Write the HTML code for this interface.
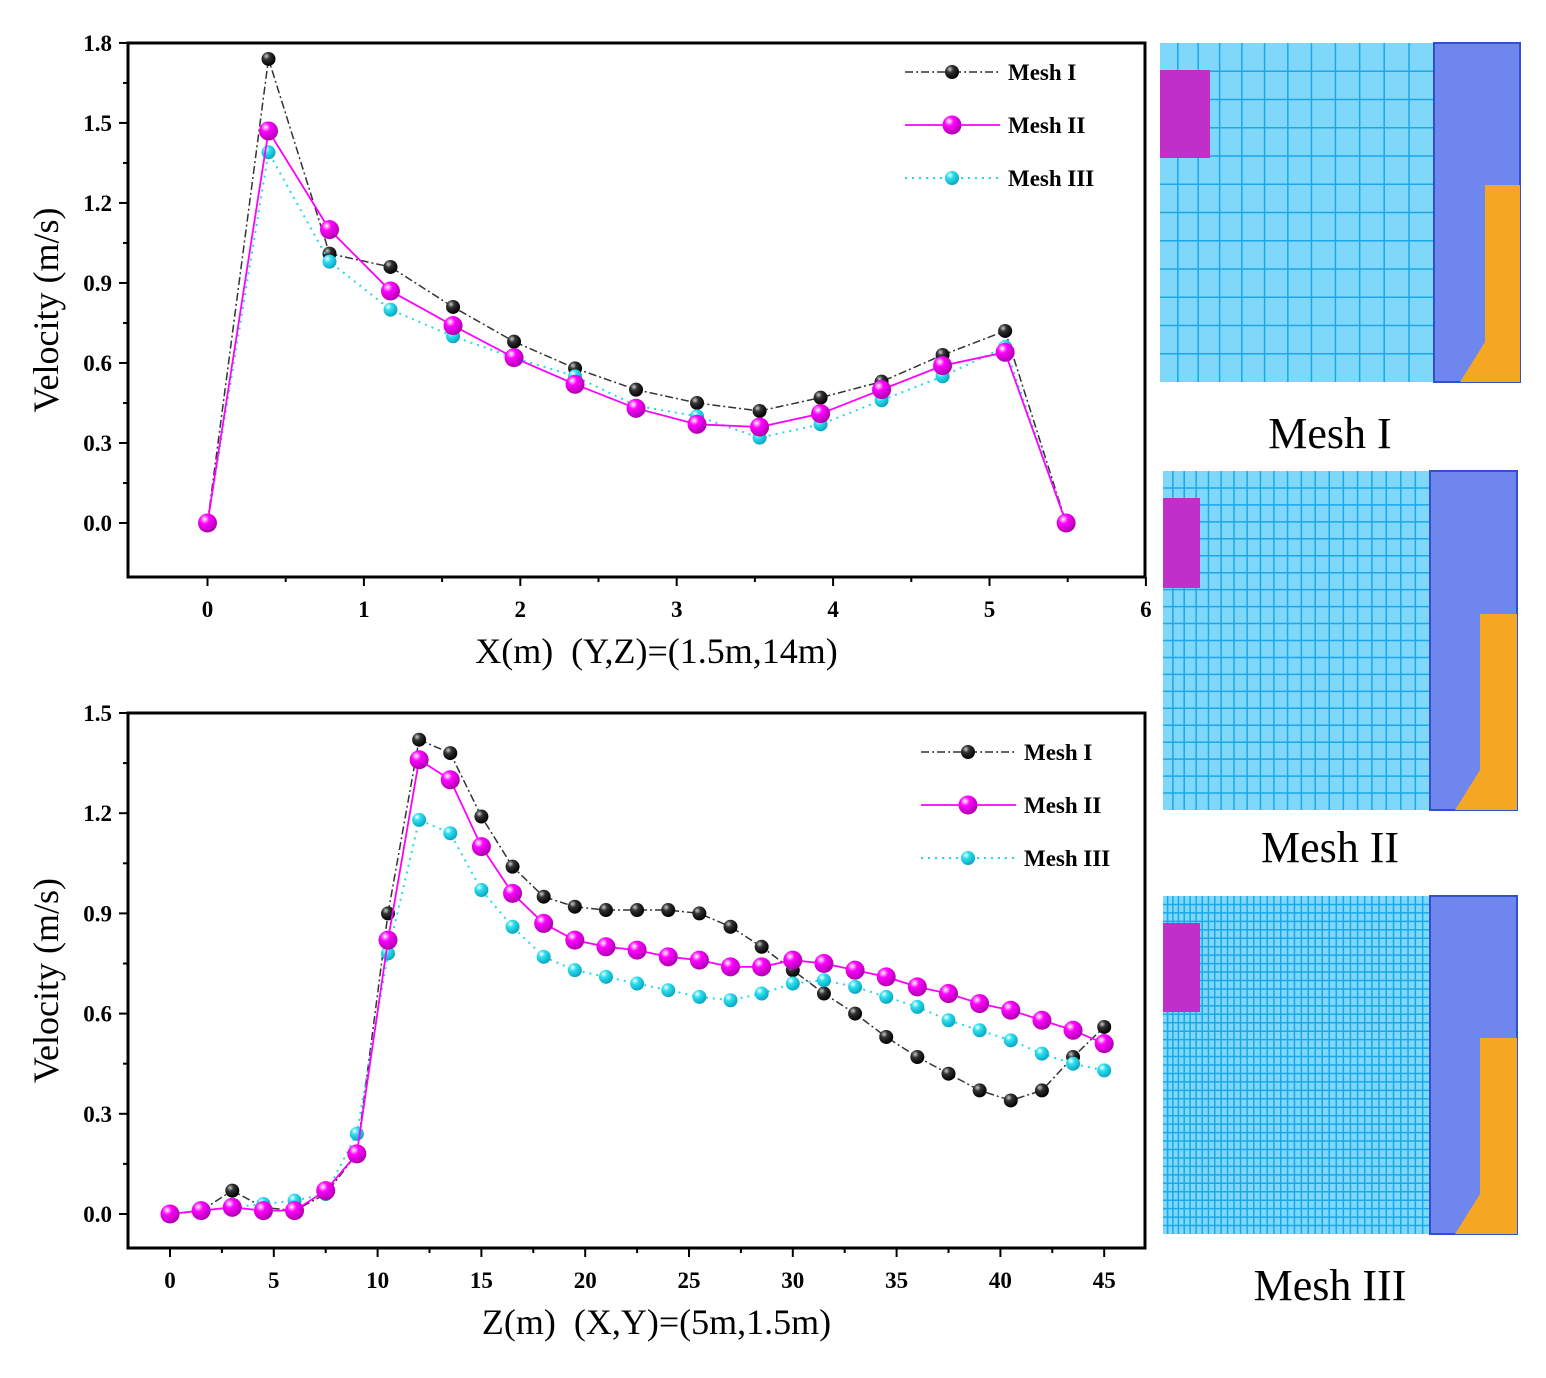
<!DOCTYPE html>
<html><head><meta charset="utf-8"><style>
body{margin:0;background:#fff;}
svg{display:block;font-family:"Liberation Serif",serif;}
</style></head><body>
<svg id="s" width="1546" height="1378" viewBox="0 0 1546 1378">
<defs>
<radialGradient id="gk" cx="35%" cy="30%" r="70%"><stop offset="0" stop-color="#ccc"/><stop offset="0.35" stop-color="#333"/><stop offset="1" stop-color="#000"/></radialGradient>
<radialGradient id="gm" cx="35%" cy="30%" r="70%"><stop offset="0" stop-color="#fff"/><stop offset="0.35" stop-color="#f0f"/><stop offset="1" stop-color="#b000b0"/></radialGradient>
<radialGradient id="gc" cx="35%" cy="30%" r="70%"><stop offset="0" stop-color="#fff"/><stop offset="0.35" stop-color="#2de0f0"/><stop offset="1" stop-color="#0aa8c0"/></radialGradient>
</defs>
</svg>
<script>
// Top chart data
const topX = [0,0.39,0.78,1.17,1.57,1.96,2.35,2.74,3.13,3.53,3.92,4.31,4.7,5.1,5.49];
const topMesh1 = [0,1.74,1.01,0.96,0.81,0.68,0.58,0.50,0.45,0.42,0.47,0.53,0.63,0.72,0];
const topMesh2 = [0,1.47,1.10,0.87,0.74,0.62,0.52,0.43,0.37,0.36,0.41,0.50,0.59,0.64,0];
const topMesh3 = [0,1.39,0.98,0.80,0.70,0.62,0.55,0.44,0.40,0.32,0.37,0.46,0.55,0.66,0];
const topXTicks = ["0","1","2","3","4","5","6"];
const topYTicks = ["0.0","0.3","0.6","0.9","1.2","1.5","1.8"];
// Bottom chart data
const botZ = [0,1.5,3,4.5,6,7.5,9,10.5,12,13.5,15,16.5,18,19.5,21,22.5,24,25.5,27,28.5,30,31.5,33,34.5,36,37.5,39,40.5,42,43.5,45];
const botMesh1 = [0,0.01,0.07,0.02,0.01,0.06,0.18,0.90,1.42,1.38,1.19,1.04,0.95,0.92,0.91,0.91,0.91,0.90,0.86,0.80,0.73,0.66,0.60,0.53,0.47,0.42,0.37,0.34,0.37,0.47,0.56];
const botMesh2 = [0,0.01,0.02,0.01,0.01,0.07,0.18,0.82,1.36,1.30,1.10,0.96,0.87,0.82,0.80,0.79,0.77,0.76,0.74,0.74,0.76,0.75,0.73,0.71,0.68,0.66,0.63,0.61,0.58,0.55,0.51];
const botMesh3 = [0,0.01,0.02,0.03,0.04,0.06,0.24,0.78,1.18,1.14,0.97,0.86,0.77,0.73,0.71,0.69,0.67,0.65,0.64,0.66,0.69,0.70,0.68,0.65,0.62,0.58,0.55,0.52,0.48,0.45,0.43];
const botXTicks = ["0","5","10","15","20","25","30","35","40","45"];
const botYTicks = ["0.0","0.3","0.6","0.9","1.2","1.5"];
const seriesNames = ["Mesh I","Mesh II","Mesh III"];

const svg=document.getElementById('s');
const NS='http://www.w3.org/2000/svg';
function mk(tag,at,parent){const e=document.createElementNS(NS,tag);for(const k in at)e.setAttribute(k,at[k]);(parent||svg).appendChild(e);return e;}

function chart(cfg){
  const g=mk('g',{});
  
  
  const sx=v=>cfg.x0px+(v-cfg.xmin)*cfg.xs, sy=v=>cfg.y0px-v*cfg.ys;
  const frame=mk('rect',{x:cfg.L,y:cfg.T,width:cfg.R-cfg.L,height:cfg.B-cfg.T,fill:'none',stroke:'#000','stroke-width':3},g);
  
  
  cfg.xt.forEach((t,i)=>{const v=+t,x=sx(v);
    mk('line',{x1:x,x2:x,y1:cfg.B,y2:cfg.B+9,stroke:'#000','stroke-width':2},g);
    const xm=sx(v+cfg.xstep/2); if(xm<cfg.R) mk('line',{x1:xm,x2:xm,y1:cfg.B,y2:cfg.B+5,stroke:'#000','stroke-width':2},g);
    const tx=mk('text',{x:x,y:cfg.B+40,'text-anchor':'middle','font-size':23,'font-weight':'bold'},g);tx.textContent=t;
    
    
  });
  cfg.yt.forEach(t=>{const v=+t,y=sy(v);
    mk('line',{x1:cfg.L-9,x2:cfg.L,y1:y,y2:y,stroke:'#000','stroke-width':2},g);
    const ym=sy(v+0.15); if(ym>cfg.T) mk('line',{x1:cfg.L-5,x2:cfg.L,y1:ym,y2:ym,stroke:'#000','stroke-width':2},g);
    const tx=mk('text',{x:cfg.L-16,y:y+8,'text-anchor':'end','font-size':23,'font-weight':'bold'},g);tx.textContent=t;
    
    
  });
  const xt=mk('text',{x:(cfg.L+cfg.R)/2+20,y:cfg.B+86,'text-anchor':'middle','font-size':36,'xml:space':'preserve',style:'white-space:pre'},g);xt.textContent=cfg.xtitle;
  
  
  const cy=(cfg.T+cfg.B)/2;
  const yt=mk('text',{x:58,y:cy,'text-anchor':'middle','font-size':36,transform:`rotate(-90 58 ${cy})`},g);yt.textContent='Velocity (m/s)';
  
  
  const styles=[{c:'#333',d:'8,3,2,3',w:1.5,f:'url(#gk)',r:7},{c:'#f0f',d:'',w:1.8,f:'url(#gm)',r:9.5},{c:'#22d8ee',d:'2,5',w:2,f:'url(#gc)',r:7}];
  const order=[0,2,1];
  order.forEach(si=>{const st=styles[si],ys=cfg.series[si];
    const pts=cfg.xs_data.map((v,i)=>sx(v)+','+sy(ys[i])).join(' ');
    const pl=mk('polyline',{points:pts,fill:'none',stroke:st.c,'stroke-width':st.w,'stroke-dasharray':st.d},g);
    
    
    cfg.xs_data.forEach((v,i)=>{const c=mk('circle',{cx:sx(v),cy:sy(ys[i]),r:st.r,fill:st.f},g);
      
      });
  });
  styles.forEach((st,i)=>{const y=cfg.legY+i*cfg.legDy;
    const lg=mk('g',{},g);
    
    
    mk('line',{x1:cfg.legX,x2:cfg.legX+95,y1:y,y2:y,stroke:st.c,'stroke-width':st.w,'stroke-dasharray':st.d},lg);
    mk('circle',{cx:cfg.legX+47,cy:y,r:st.r,fill:st.f},lg);
    const t=mk('text',{x:cfg.legX+103,y:y+8,'font-size':23,'font-weight':'bold'},lg);t.textContent=seriesNames[i];
  });
}
chart({name:'top-chart',L:128,R:1145,T:43,B:577,x0px:207.5,xmin:0,xs:156.4,y0px:523,ys:266.7,xstep:1,
  xt:topXTicks,yt:topYTicks,xtitle:'X(m)  (Y,Z)=(1.5m,14m)',xs_data:topX,series:[topMesh1,topMesh2,topMesh3],legX:905,legY:72,legDy:53});
chart({name:'bottom-chart',L:128,R:1145,T:713,B:1248,x0px:170,xmin:0,xs:20.76,y0px:1214,ys:334,xstep:5,
  xt:botXTicks,yt:botYTicks,xtitle:'Z(m)  (X,Y)=(5m,1.5m)',xs_data:botZ,series:[botMesh1,botMesh2,botMesh3],legX:921,legY:752,legDy:53});

function panel(name,x,y,w,h,split,mag,ora,label,ly,n){
  const g=mk('g',{});
  
  
  mk('rect',{x:x,y:y,width:split-x,height:h,fill:'#7fd8fa'},g);
  for(let i=1;i<n;i++){const xx=x+(split-x)*Math.pow(i/n,1.1);mk('line',{x1:xx,x2:xx,y1:y,y2:y+h,stroke:'#1aa8e8','stroke-width':1.5},g);
    const yy=y+h*i/n;mk('line',{x1:x,x2:split,y1:yy,y2:yy,stroke:'#1aa8e8','stroke-width':1.5},g);}
  mk('rect',{x:split,y:y,width:x+w-split,height:h,fill:'#6f86ee'},g);
  mk('rect',{x:split,y:y,width:x+w-split,height:h,fill:'none',stroke:'#3050d0','stroke-width':2},g);
  mk('rect',{x:x,y:mag[0],width:mag[1],height:mag[2]-mag[0],fill:'#c030c8'},g);
  mk('polygon',{points:`${ora[0]},${ora[1]} ${x+w},${ora[1]} ${x+w},${y+h} ${ora[0]-25},${y+h} ${ora[0]},${y+h-40}`,fill:'#f5a623'},g);
  const t=mk('text',{x:x+w/2-10,y:ly,'text-anchor':'middle','font-size':44},g);t.textContent=label;
  
  
}
panel('mesh-1-panel',1160,43,360,339,1434,[70,50,158],[1485,185],'Mesh I',448,12);
panel('mesh-2-panel',1163,471,354,339,1430,[498,37,588],[1480,614],'Mesh II',862,20);
panel('mesh-3-panel',1163,896,354,338,1430,[923,37,1012],[1480,1038],'Mesh III',1300,40);
</script>
</body></html>
